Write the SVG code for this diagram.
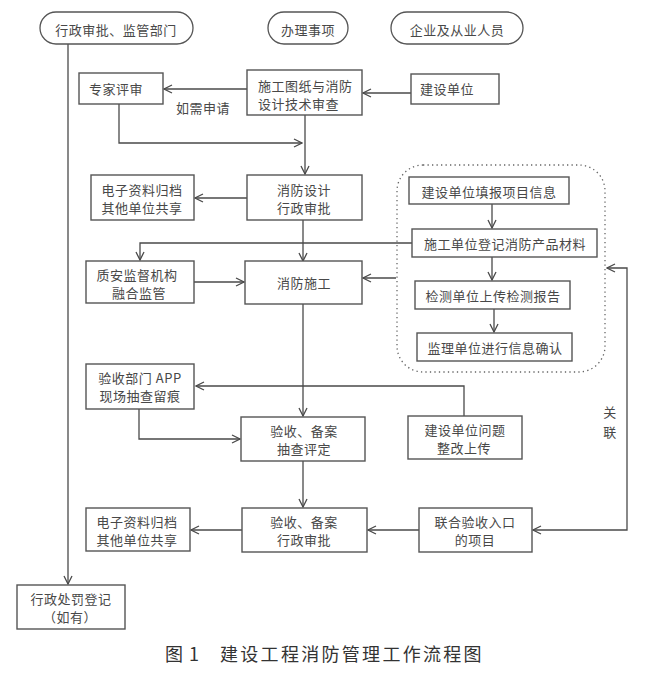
<svg xmlns="http://www.w3.org/2000/svg" width="647" height="676" viewBox="0 0 647 676">
<defs>
<marker id="arr" viewBox="0 0 10 10" refX="9" refY="5" markerWidth="10" markerHeight="10" markerUnits="userSpaceOnUse" orient="auto-start-reverse">
<path d="M1,1 L9,5 L1,9" fill="none" stroke="#4a4a4a" stroke-width="1.3"/>
</marker>
</defs>
<style>
.box{fill:#fff;stroke:#555;stroke-width:1.4}
.pill{fill:#fff;stroke:#555;stroke-width:1.3}
.dot{fill:none;stroke:#666;stroke-width:1.3;stroke-dasharray:1.3 3.2}
.ln{fill:none;stroke:#4a4a4a;stroke-width:1.3}
text{font-family:"Noto Sans CJK SC","Liberation Serif",sans-serif;font-size:13px;fill:#484848;letter-spacing:0.5px;dominant-baseline:central;text-anchor:middle}
.cap{font-size:18px;fill:#333}
</style>
<rect width="647" height="676" fill="#fff"/>

<g id="connectors">
<line class="ln" x1="68" y1="44" x2="68" y2="584" marker-end="url(#arr)"/>
<line class="ln" x1="247" y1="89" x2="164" y2="89" marker-end="url(#arr)"/>
<line class="ln" x1="411" y1="93" x2="363" y2="93" marker-end="url(#arr)"/>
<polyline class="ln" points="119,104 119,143 302,143" marker-end="url(#arr)"/>
<line class="ln" x1="305" y1="115" x2="305" y2="174" marker-end="url(#arr)"/>
<line class="ln" x1="247" y1="198" x2="195" y2="198" marker-end="url(#arr)"/>
<line class="ln" x1="303" y1="220" x2="303" y2="261" marker-end="url(#arr)"/>
<polyline class="ln" points="412,243 140,243 140,260" marker-end="url(#arr)"/>
<line class="ln" x1="194" y1="282" x2="244" y2="282" marker-end="url(#arr)"/>
<line class="ln" x1="396" y1="278" x2="363" y2="278" marker-end="url(#arr)"/>
<line class="ln" x1="492" y1="204" x2="492" y2="228" marker-end="url(#arr)"/>
<line class="ln" x1="492" y1="257" x2="492" y2="280" marker-end="url(#arr)"/>
<line class="ln" x1="494" y1="309" x2="494" y2="332" marker-end="url(#arr)"/>
<path class="ln" d="M607,268 L627,268 L627,530 L533,530" marker-start="url(#arr)" marker-end="url(#arr)"/>
<line class="ln" x1="303" y1="304" x2="303" y2="416" marker-end="url(#arr)"/>
<polyline class="ln" points="464,416 464,386 196,386" marker-end="url(#arr)"/>
<polyline class="ln" points="139,409 139,439 240,439" marker-end="url(#arr)"/>
<line class="ln" x1="303" y1="461" x2="303" y2="507" marker-end="url(#arr)"/>
<line class="ln" x1="242" y1="530" x2="191" y2="530" marker-end="url(#arr)"/>
<line class="ln" x1="419" y1="530" x2="368" y2="530" marker-end="url(#arr)"/>
<text x="203" y="107">如需申请</text>
<text x="610" y="411">关</text>
<text x="610" y="431">联</text>
</g>

<g id="pill-admin"><rect class="pill" x="40" y="12" width="153" height="32" rx="16"/><text x="116" y="29">行政审批、监管部门</text></g>
<g id="pill-items"><rect class="pill" x="268" y="12" width="80" height="32" rx="16"/><text x="308" y="29">办理事项</text></g>
<g id="pill-enterprise"><rect class="pill" x="391" y="12" width="132" height="32" rx="16"/><text x="457" y="29">企业及从业人员</text></g>

<g id="expert"><rect class="box" x="79" y="73" width="84" height="31"/><text x="116" y="88">专家评审</text></g>
<g id="design-review"><rect class="box" x="247" y="70" width="115" height="45"/><text x="258" y="85" style="text-anchor:start">施工图纸与消防</text><text x="258" y="103" style="text-anchor:start">设计技术审查</text></g>
<g id="builder"><rect class="box" x="411" y="74" width="88" height="30"/><text x="447" y="88">建设单位</text></g>

<g id="design-approval"><rect class="box" x="247" y="175" width="115" height="45"/><text x="304" y="189">消防设计</text><text x="304" y="207">行政审批</text></g>
<g id="archive1"><rect class="box" x="91" y="175" width="103" height="45"/><text x="142" y="189">电子资料归档</text><text x="142" y="207">其他单位共享</text></g>

<g id="quality"><rect class="box" x="86" y="261" width="108" height="42"/><text x="137" y="274">质安监督机构</text><text x="139" y="292">融合监管</text></g>
<g id="construction"><rect class="box" x="245" y="261" width="117" height="43"/><text x="304" y="282">消防施工</text></g>

<g id="info-group"><rect class="dot" x="397" y="165" width="208" height="207" rx="26"/></g>
<g id="fill-info"><rect class="box" x="409" y="177" width="160" height="27"/><text x="489" y="191">建设单位填报项目信息</text></g>
<g id="register"><rect class="box" x="412" y="229" width="185" height="28"/><text x="505" y="243">施工单位登记消防产品材料</text></g>
<g id="test-report"><rect class="box" x="415" y="281" width="155" height="28"/><text x="493" y="295">检测单位上传检测报告</text></g>
<g id="supervision"><rect class="box" x="417" y="333" width="155" height="28"/><text x="495" y="347">监理单位进行信息确认</text></g>

<g id="app-check"><rect class="box" x="86" y="364" width="108" height="45"/><text x="140" y="377">验收部门 APP</text><text x="140" y="395">现场抽查留痕</text></g>
<g id="acceptance-check"><rect class="box" x="241" y="417" width="124" height="44"/><text x="304" y="430">验收、备案</text><text x="304" y="448">抽查评定</text></g>
<g id="rectify"><rect class="box" x="408" y="416" width="114" height="43"/><text x="465" y="429">建设单位问题</text><text x="464" y="447">整改上传</text></g>

<g id="acceptance-approval"><rect class="box" x="242" y="508" width="125" height="44"/><text x="304" y="521">验收、备案</text><text x="304" y="539">行政审批</text></g>
<g id="archive2"><rect class="box" x="86" y="508" width="104" height="43"/><text x="137" y="521">电子资料归档</text><text x="137" y="539">其他单位共享</text></g>
<g id="joint"><rect class="box" x="419" y="508" width="113" height="44"/><text x="475" y="521">联合验收入口</text><text x="475" y="539">的项目</text></g>

<g id="penalty"><rect class="box" x="17" y="585" width="108" height="44"/><text x="71" y="598">行政处罚登记</text><text x="70" y="616">（如有）</text></g>

<text class="cap" x="165" y="653" style="text-anchor:start;letter-spacing:1px">图 1</text>
<text class="cap" x="220" y="653" style="text-anchor:start;letter-spacing:2.3px">建设工程消防管理工作流程图</text>
</svg>
